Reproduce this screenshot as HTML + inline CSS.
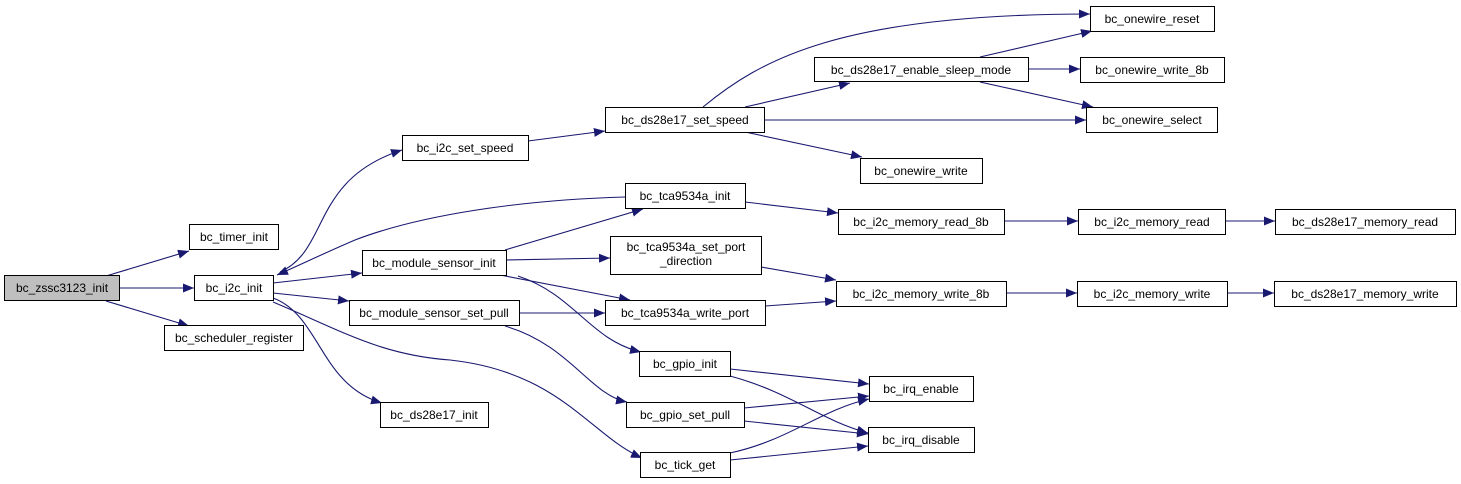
<!DOCTYPE html>
<html><head><meta charset="utf-8"><style>
html,body{margin:0;padding:0;background:#fff;}
svg{display:block;}
text{font-family:"Liberation Sans",sans-serif;font-size:12px;fill:#000;}
</style></head><body>
<svg width="1461" height="484" viewBox="0 0 1461 484" xmlns="http://www.w3.org/2000/svg">
<defs>
<marker id="a" markerWidth="12" markerHeight="9" refX="11" refY="4.5" orient="auto" markerUnits="userSpaceOnUse">
<path d="M0,0 L11,4.5 L0,9 Z" fill="#191970"/>
</marker>
</defs>
<g fill="none" stroke="#191970" stroke-width="1.1" marker-end="url(#a)">
<path d="M106,276 L189,251"/>
<path d="M119,288 L194,288"/>
<path d="M106,301 L189,326"/>
<path d="M280,272 C330,250 310,180 402,150"/>
<path d="M273,283 L362,273"/>
<path d="M273,293 L349,301"/>
<path d="M273,298 C320,315 320,385 382,403"/>
<path d="M273,302 C340,330 380,355 450,360 C560,372 590,435 642,458"/>
<path d="M625,197 C520,200 420,215 355,240 C320,255 300,265 277,275"/>
<path d="M505,250 L643,209"/>
<path d="M528,141 L605,131"/>
<path d="M703,107 C760,60 840,14 1090,14"/>
<path d="M745,107 L850,83"/>
<path d="M764,120 L1086,120"/>
<path d="M745,132 L862,157"/>
<path d="M980,57 L1092,31"/>
<path d="M1028,69 L1080,69"/>
<path d="M980,82 L1093,107"/>
<path d="M745,202 L838,213"/>
<path d="M1004,221 L1078,221"/>
<path d="M1225,221 L1275,221"/>
<path d="M506,260 L610,258"/>
<path d="M500,275 L630,300"/>
<path d="M518,276 C575,295 590,340 641,352"/>
<path d="M519,313 L605,313"/>
<path d="M505,326 C570,345 590,395 627,402"/>
<path d="M761,267 L836,280"/>
<path d="M765,306 L836,301"/>
<path d="M1006,293 L1077,293"/>
<path d="M1227,293 L1274,293"/>
<path d="M730,369 L869,384"/>
<path d="M730,376 C790,392 820,420 868,433"/>
<path d="M744,408 L869,396"/>
<path d="M744,421 L868,434"/>
<path d="M730,453 C790,440 820,410 869,399"/>
<path d="M730,460 L868,446"/>
</g>
<g stroke="#000" stroke-width="1" fill="#fff">
<rect x="4.5" y="275.5" width="115" height="25" fill="#bfbfbf"/>
<rect x="189.5" y="224.5" width="89" height="25"/>
<rect x="194.5" y="275.5" width="79" height="25"/>
<rect x="164.5" y="325.5" width="139" height="25"/>
<rect x="362.5" y="250.5" width="144" height="25"/>
<rect x="349.5" y="300.5" width="170" height="25"/>
<rect x="380.5" y="402.5" width="108" height="25"/>
<rect x="402.5" y="135.5" width="126" height="25"/>
<rect x="605.5" y="107.5" width="159" height="25"/>
<rect x="814.5" y="57.5" width="214" height="24"/>
<rect x="860.5" y="158.5" width="122" height="25"/>
<rect x="625.5" y="183.5" width="120" height="25"/>
<rect x="838.5" y="209.5" width="166" height="25"/>
<rect x="610.5" y="236.5" width="151" height="38"/>
<rect x="836.5" y="281.5" width="170" height="25"/>
<rect x="605.5" y="300.5" width="160" height="25"/>
<rect x="639.5" y="351.5" width="91" height="25"/>
<rect x="869.5" y="376.5" width="104" height="25"/>
<rect x="626.5" y="402.5" width="118" height="25"/>
<rect x="868.5" y="427.5" width="106" height="25"/>
<rect x="640.5" y="452.5" width="90" height="25"/>
<rect x="1090.5" y="6.5" width="124" height="25"/>
<rect x="1080.5" y="57.5" width="144" height="25"/>
<rect x="1086.5" y="107.5" width="131" height="25"/>
<rect x="1078.5" y="209.5" width="147" height="25"/>
<rect x="1275.5" y="209.5" width="180" height="25"/>
<rect x="1077.5" y="281.5" width="150" height="25"/>
<rect x="1274.5" y="281.5" width="182" height="25"/>
</g>
<g text-anchor="middle">
<text x="62" y="292">bc_zssc3123_init</text>
<text x="234" y="241">bc_timer_init</text>
<text x="234" y="292">bc_i2c_init</text>
<text x="234" y="342">bc_scheduler_register</text>
<text x="434" y="267">bc_module_sensor_init</text>
<text x="434" y="317">bc_module_sensor_set_pull</text>
<text x="434" y="419">bc_ds28e17_init</text>
<text x="465" y="152">bc_i2c_set_speed</text>
<text x="685" y="124">bc_ds28e17_set_speed</text>
<text x="921" y="74">bc_ds28e17_enable_sleep_mode</text>
<text x="921" y="175">bc_onewire_write</text>
<text x="685" y="200">bc_tca9534a_init</text>
<text x="921" y="226">bc_i2c_memory_read_8b</text>
<text x="686" y="251">bc_tca9534a_set_port</text>
<text x="686" y="265">_direction</text>
<text x="921" y="298">bc_i2c_memory_write_8b</text>
<text x="685" y="317">bc_tca9534a_write_port</text>
<text x="685" y="368">bc_gpio_init</text>
<text x="921" y="393">bc_irq_enable</text>
<text x="685" y="419">bc_gpio_set_pull</text>
<text x="921" y="444">bc_irq_disable</text>
<text x="685" y="469">bc_tick_get</text>
<text x="1152" y="23">bc_onewire_reset</text>
<text x="1152" y="74">bc_onewire_write_8b</text>
<text x="1152" y="124">bc_onewire_select</text>
<text x="1152" y="226">bc_i2c_memory_read</text>
<text x="1365" y="226">bc_ds28e17_memory_read</text>
<text x="1152" y="298">bc_i2c_memory_write</text>
<text x="1365" y="298">bc_ds28e17_memory_write</text>
</g>
</svg>
</body></html>
